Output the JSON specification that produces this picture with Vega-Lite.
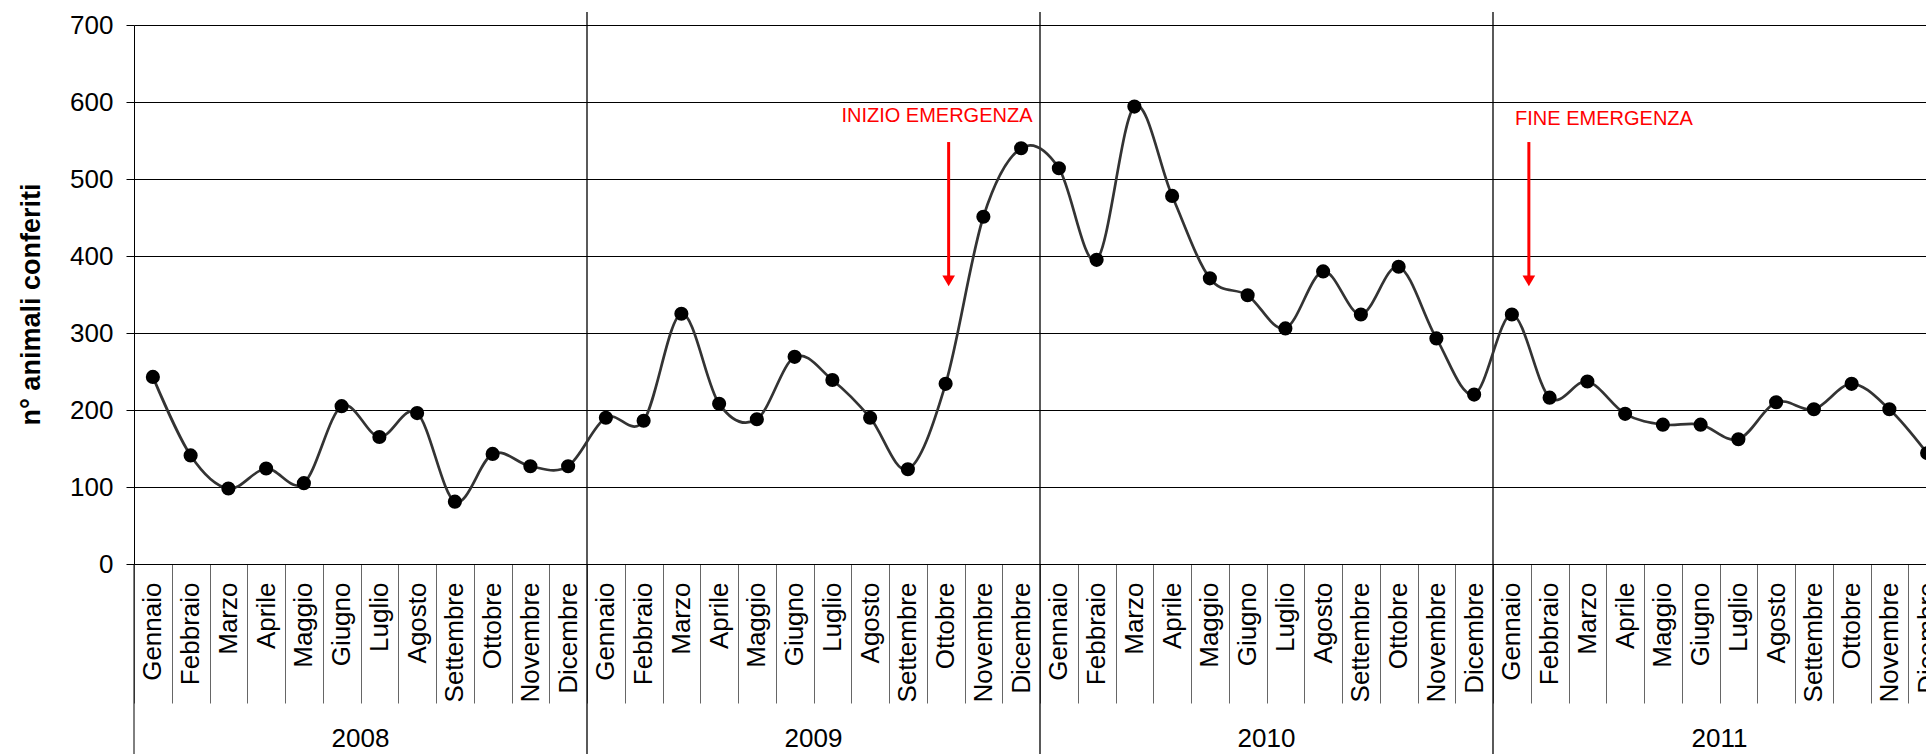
{
  "$schema": "https://vega.github.io/schema/vega-lite/v6.json",
  "autosize": {"type": "none"},
  "width": 1812,
  "height": 539,
  "padding": {"left": 134, "top": 25, "right": -20, "bottom": 190},
  "background": "white",
  "config": {
    "view": {"stroke": null},
    "font": "Liberation Sans",
    "axis": {"labelFont": "Liberation Sans", "titleFont": "Liberation Sans"}
  },
  "data": {
    "values": [
      {"id": "2008-01", "anno": "2008", "n": 243},
      {"id": "2008-02", "anno": "2008", "n": 141},
      {"id": "2008-03", "anno": "2008", "n": 98},
      {"id": "2008-04", "anno": "2008", "n": 124},
      {"id": "2008-05", "anno": "2008", "n": 105},
      {"id": "2008-06", "anno": "2008", "n": 205},
      {"id": "2008-07", "anno": "2008", "n": 165},
      {"id": "2008-08", "anno": "2008", "n": 196},
      {"id": "2008-09", "anno": "2008", "n": 81},
      {"id": "2008-10", "anno": "2008", "n": 143},
      {"id": "2008-11", "anno": "2008", "n": 127},
      {"id": "2008-12", "anno": "2008", "n": 127},
      {"id": "2009-01", "anno": "2009", "n": 190},
      {"id": "2009-02", "anno": "2009", "n": 186},
      {"id": "2009-03", "anno": "2009", "n": 325},
      {"id": "2009-04", "anno": "2009", "n": 208},
      {"id": "2009-05", "anno": "2009", "n": 188},
      {"id": "2009-06", "anno": "2009", "n": 269},
      {"id": "2009-07", "anno": "2009", "n": 239},
      {"id": "2009-08", "anno": "2009", "n": 190},
      {"id": "2009-09", "anno": "2009", "n": 123},
      {"id": "2009-10", "anno": "2009", "n": 234},
      {"id": "2009-11", "anno": "2009", "n": 451},
      {"id": "2009-12", "anno": "2009", "n": 540},
      {"id": "2010-01", "anno": "2010", "n": 514},
      {"id": "2010-02", "anno": "2010", "n": 395},
      {"id": "2010-03", "anno": "2010", "n": 594},
      {"id": "2010-04", "anno": "2010", "n": 478},
      {"id": "2010-05", "anno": "2010", "n": 371},
      {"id": "2010-06", "anno": "2010", "n": 349},
      {"id": "2010-07", "anno": "2010", "n": 306},
      {"id": "2010-08", "anno": "2010", "n": 380},
      {"id": "2010-09", "anno": "2010", "n": 324},
      {"id": "2010-10", "anno": "2010", "n": 386},
      {"id": "2010-11", "anno": "2010", "n": 293},
      {"id": "2010-12", "anno": "2010", "n": 220},
      {"id": "2011-01", "anno": "2011", "n": 324},
      {"id": "2011-02", "anno": "2011", "n": 216},
      {"id": "2011-03", "anno": "2011", "n": 237},
      {"id": "2011-04", "anno": "2011", "n": 195},
      {"id": "2011-05", "anno": "2011", "n": 181},
      {"id": "2011-06", "anno": "2011", "n": 181},
      {"id": "2011-07", "anno": "2011", "n": 162},
      {"id": "2011-08", "anno": "2011", "n": 210},
      {"id": "2011-09", "anno": "2011", "n": 201},
      {"id": "2011-10", "anno": "2011", "n": 234},
      {"id": "2011-11", "anno": "2011", "n": 201},
      {"id": "2011-12", "anno": "2011", "n": 144}
    ]
  },
  "layer": [
    {
      "transform": [{"filter": "slice(datum.id, 5) == '01' && datum.anno != '2008'"}],
      "mark": {"type": "rule", "color": "#000000", "strokeWidth": 1.3},
      "encoding": {
        "x": {"field": "id", "type": "ordinal", "bandPosition": 0},
        "y": {"datum": 717},
        "y2": {"datum": -260}
      }
    },
    {
      "transform": [{"filter": "datum.id == '2008-01'"}],
      "mark": {"type": "rule", "color": "#000000", "strokeWidth": 1},
      "encoding": {
        "x": {"field": "id", "type": "ordinal", "bandPosition": 0},
        "y": {"datum": 0},
        "y2": {"datum": -260}
      }
    },
    {
      "mark": {"type": "line", "interpolate": "cardinal", "color": "#333333", "strokeWidth": 2.7},
      "encoding": {
        "x": {
          "field": "id",
          "type": "ordinal",
          "scale": {"type": "band", "paddingInner": 0, "paddingOuter": 0},
          "axis": {
            "title": null,
            "grid": false,
            "tickBand": "extent",
            "tickSize": 139,
            "tickColor": "#666666",
            "tickWidth": 1,
            "domainColor": "#000000",
            "domainWidth": 1,
            "labelAngle": 270,
            "labelAlign": "right",
            "labelBaseline": "middle",
            "labelPadding": -121,
            "labelFontSize": 26,
            "labelColor": "#000000",
            "labelOverlap": false,
            "labelExpr": "isString(datum.value) ? ['Gennaio','Febbraio','Marzo','Aprile','Maggio','Giugno','Luglio','Agosto','Settembre','Ottobre','Novembre','Dicembre'][toNumber(slice(datum.value, 5)) - 1] : ''"
          }
        },
        "y": {
          "field": "n",
          "type": "quantitative",
          "scale": {"domain": [0, 700], "nice": false},
          "axis": {
            "title": "n° animali conferiti",
            "titleFontSize": 27,
            "titleFontWeight": "bold",
            "titleColor": "#000000",
            "titleX": -103,
            "titleY": 279,
            "titleBaseline": "middle",
            "titleAlign": "center",
            "titleAngle": 270,
            "values": [0, 100, 200, 300, 400, 500, 600, 700],
            "tickSize": 8,
            "tickColor": "#000000",
            "domainColor": "#000000",
            "labelFontSize": 26,
            "labelColor": "#000000",
            "labelPadding": 13,
            "grid": true,
            "gridColor": "#000000",
            "gridWidth": 1
          }
        }
      }
    },
    {
      "mark": {"type": "point", "filled": true, "color": "#000000", "size": 200, "opacity": 1},
      "encoding": {
        "x": {"field": "id", "type": "ordinal"},
        "y": {"field": "n", "type": "quantitative"}
      }
    },
    {
      "transform": [{"filter": "slice(datum.id, 5) == '07'"}],
      "mark": {"type": "text", "fontSize": 26, "color": "#000000", "align": "center", "baseline": "middle"},
      "encoding": {
        "x": {"field": "id", "type": "ordinal", "bandPosition": 0},
        "y": {"datum": -227},
        "text": {"field": "anno"}
      }
    },
    {
      "transform": [{"filter": "datum.id == '2009-10'"}],
      "mark": {"type": "text", "text": "INIZIO EMERGENZA", "fontSize": 20, "color": "#FF0000", "align": "center", "baseline": "alphabetic"},
      "encoding": {
        "x": {"field": "id", "type": "ordinal", "bandPosition": 0.27},
        "y": {"datum": 574}
      }
    },
    {
      "transform": [{"filter": "datum.id == '2009-10'"}],
      "mark": {"type": "rule", "color": "#FF0000", "strokeWidth": 3},
      "encoding": {
        "x": {"field": "id", "type": "ordinal", "bandPosition": 0.58},
        "y": {"datum": 548},
        "y2": {"datum": 372}
      }
    },
    {
      "transform": [{"filter": "datum.id == '2009-10'"}],
      "mark": {"type": "point", "shape": "triangle-down", "filled": true, "color": "#FF0000", "size": 160, "opacity": 1},
      "encoding": {
        "x": {"field": "id", "type": "ordinal", "bandPosition": 0.58},
        "y": {"datum": 367.7}
      }
    },
    {
      "transform": [{"filter": "datum.id == '2011-03'"}],
      "mark": {"type": "text", "text": "FINE EMERGENZA", "fontSize": 20, "color": "#FF0000", "align": "center", "baseline": "alphabetic"},
      "encoding": {
        "x": {"field": "id", "type": "ordinal", "bandPosition": 0.94},
        "y": {"datum": 570}
      }
    },
    {
      "transform": [{"filter": "datum.id == '2011-01'"}],
      "mark": {"type": "rule", "color": "#FF0000", "strokeWidth": 3},
      "encoding": {
        "x": {"field": "id", "type": "ordinal", "bandPosition": 0.95},
        "y": {"datum": 548},
        "y2": {"datum": 372}
      }
    },
    {
      "transform": [{"filter": "datum.id == '2011-01'"}],
      "mark": {"type": "point", "shape": "triangle-down", "filled": true, "color": "#FF0000", "size": 160, "opacity": 1},
      "encoding": {
        "x": {"field": "id", "type": "ordinal", "bandPosition": 0.95},
        "y": {"datum": 367.7}
      }
    }
  ]
}
